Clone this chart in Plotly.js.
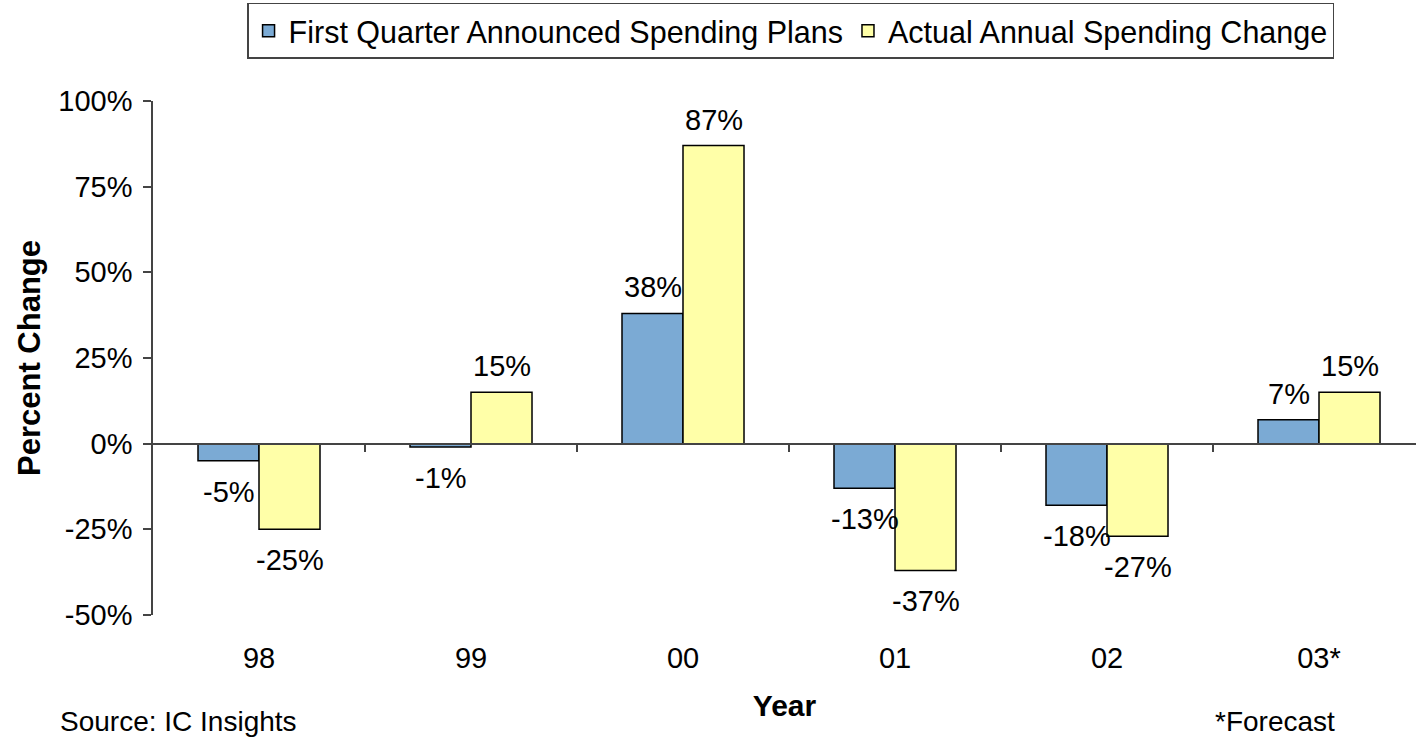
<!DOCTYPE html>
<html>
<head>
<meta charset="utf-8">
<script src="https://cdn.plot.ly/plotly-3.0.1.min.js"></script>
<style>
  html, body { margin: 0; padding: 0; background: #fff; }
  #chart { width: 1416px; height: 742px; }
</style>
</head>
<body>
<div id="chart"></div>
<script>
// ---- data ----
const years = ["98", "99", "00", "01", "02", "03*"];
const plannedSpending = [-5, -1, 38, -13, -18, 7];
const actualSpending = [-25, 15, 87, -37, -27, 15];
const seriesNames = ["First Quarter Announced Spending Plans", "Actual Annual Spending Change"];
const yTickValues = [-50, -25, 0, 25, 50, 75, 100];
const yTickLabels = ["-50%", "-25%", "0%", "25%", "50%", "75%", "100%"];
const categoryBoundaries = [0.5, 1.5, 2.5, 3.5, 4.5, 5.5];

const FONT = "Liberation Sans, Arial, Helvetica, sans-serif";
const BLUE = "#7BAAD4";
const YELLOW = "#FFFFA8";
const BAR_HALF_PX = 30.5;

const traces = [
  {
    type: "bar", name: seriesNames[0], x: years, y: plannedSpending,
    marker: { color: BLUE, line: { color: "#000", width: 1.5 } },
    hoverinfo: "x+y"
  },
  {
    type: "bar", name: seriesNames[1], x: years, y: actualSpending,
    marker: { color: YELLOW, line: { color: "#000", width: 1.5 } },
    hoverinfo: "x+y"
  },
  { type: "scatter", x: [], y: [], xaxis: "x2", yaxis: "y", showlegend: false, hoverinfo: "skip" }
];

// category index used as x so that labels like "00" are not read as numbers
function labelAnnotations(values, shift) {
  return values.map((v, i) => ({
    x: i, y: v, xref: "x", yref: "y",
    text: v + "%", showarrow: false,
    xshift: shift, yshift: v >= 0 ? 26 : -31,
    xanchor: "center", yanchor: "middle",
    font: { family: FONT, size: 29, color: "#000" }
  }));
}

const annotations = [
  ...labelAnnotations(plannedSpending, -BAR_HALF_PX),
  ...labelAnnotations(actualSpending, BAR_HALF_PX),
  {
    text: "Source: IC Insights", xref: "paper", yref: "paper",
    x: -0.0752, y: -0.208, xanchor: "left", yanchor: "middle", showarrow: false,
    font: { family: FONT, size: 28, color: "#000" }
  },
  {
    text: "*Forecast", xref: "paper", yref: "paper",
    x: 0.9375, y: -0.208, xanchor: "right", yanchor: "middle", showarrow: false,
    font: { family: FONT, size: 28, color: "#000" }
  }
];

const layout = {
  width: 1416, height: 742,
  margin: { l: 153, r: 0, t: 101, b: 127 },
  paper_bgcolor: "#fff", plot_bgcolor: "#fff",
  font: { family: FONT, size: 28, color: "#000" },
  barmode: "group", bargap: 0.4245, bargroupgap: 0,
  showlegend: true,
  legend: {
    orientation: "h", x: 0.5048, xanchor: "center", y: 1.1907, yanchor: "top",
    bgcolor: "#fff", bordercolor: "#444", borderwidth: 1.5,
    font: { family: FONT, size: 30.5, color: "#000" },
    itemwidth: 30, traceorder: "normal"
  },
  xaxis: {
    type: "category", range: [-0.5, 5.4575],
    showline: false, showgrid: false, zeroline: false,
    ticks: "outside", ticklen: 17, tickcolor: "rgba(0,0,0,0)",
    tickfont: { family: FONT, size: 29, color: "#000" },
    title: { text: "<b>Year</b>", font: { family: FONT, size: 30, color: "#000" }, standoff: 22 },
    fixedrange: true
  },
  xaxis2: {
    overlaying: "x", anchor: "free", position: 1 / 3,
    range: [-0.5, 5.4575], showline: true, linecolor: "#444", linewidth: 1.5,
    showgrid: false, zeroline: false,
    tickmode: "array", tickvals: categoryBoundaries, showticklabels: false,
    ticks: "outside", ticklen: 8, tickcolor: "#444", tickwidth: 1.5,
    fixedrange: true
  },
  yaxis: {
    range: [-50, 100], tickmode: "array", tickvals: yTickValues, ticktext: yTickLabels,
    showline: true, linecolor: "#444", linewidth: 1.5,
    ticks: "outside", ticklen: 8, tickcolor: "#444", tickwidth: 1.5,
    ticklabelstandoff: 5,
    showgrid: false, zeroline: false,
    tickfont: { family: FONT, size: 29, color: "#000" },
    title: { text: "<b>Percent Change</b>", font: { family: FONT, size: 31, color: "#000" }, standoff: 8 },
    fixedrange: true
  },
  annotations: annotations
};

Plotly.newPlot("chart", traces, layout, { displayModeBar: false });
</script>
</body>
</html>
